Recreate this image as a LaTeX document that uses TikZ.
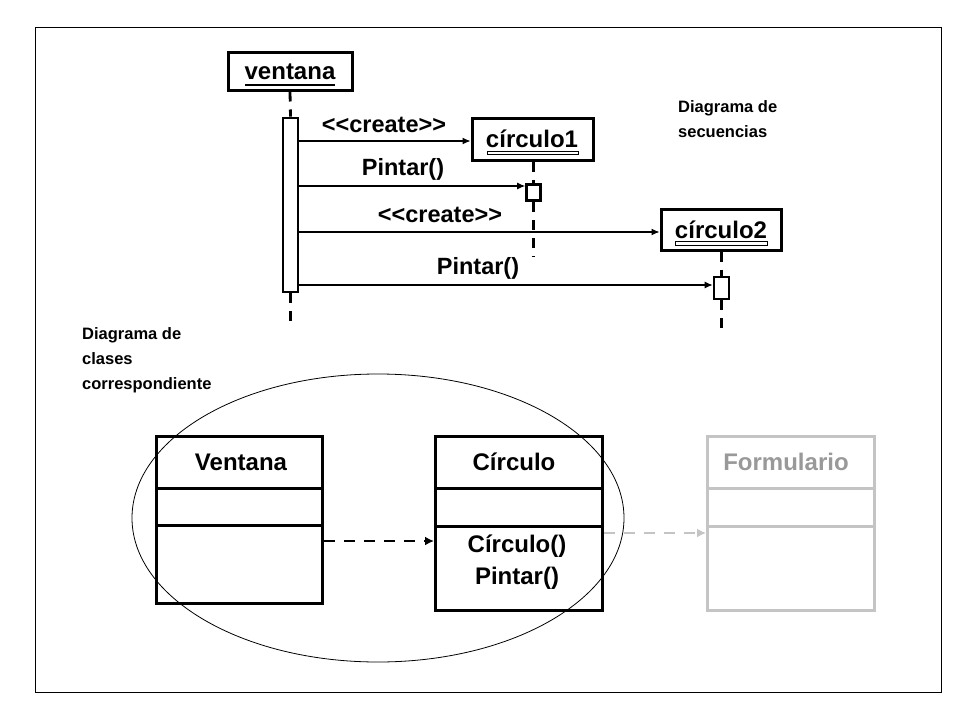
\documentclass[tikz,border=0pt]{standalone}
\usepackage{fontspec}
\setmainfont{Liberation Sans}
\usetikzlibrary{arrows.meta}
\definecolor{lgray}{HTML}{C4C4C4}
\definecolor{tgray}{HTML}{999999}
\tikzset{
  objbox/.style={draw, line width=3pt, fill=white, inner sep=0pt, font=\fontsize{24}{28}\selectfont\bfseries},
  actbar/.style={draw, line width=2.6pt, fill=white, inner sep=0pt},
  lifeline/.style={line width=2.8pt, dash pattern=on 10pt off 8pt},
  msg/.style={line width=1.1pt, -{Latex[length=8pt,width=7pt]}},
  lbl/.style={font=\fontsize{23.5}{28}\selectfont\bfseries, inner sep=0pt},
  clbl/.style={font=\fontsize{24}{28}\selectfont\bfseries, inner sep=0pt},
  note/.style={font=\fontsize{16.5}{25}\selectfont\bfseries, inner sep=0pt, align=left, anchor=north west},
  classbox/.style={draw, line width=3pt, inner sep=0pt, anchor=north west},
  dep/.style={line width=2.8pt, dash pattern=on 11pt off 9pt, -{Latex[length=9pt,width=9pt]}},
}
\begin{document}
\begin{tikzpicture}[x=1pt,y=-1pt]
\useasboundingbox (0,0) rectangle (959,720);
\fill[white] (0,0) rectangle (959,720);
\draw[line width=1pt] (35,27) rectangle (941,692);

% sequence diagram objects
\node[objbox, minimum width=124pt, minimum height=38pt] (ventana) at (290,71) {};
\node[clbl] (tv) at (290,72) {ventana};
\draw[line width=2.6pt] (245,85) -- (335,85);
\node[actbar, minimum width=15pt, minimum height=174pt] (bar) at (290.5,205) {};
\draw[lifeline] (ventana.south) -- (bar.north);
\coordinate (vend) at (290.5,326);
\draw[lifeline] (bar.south) -- (vend);

\node[objbox, minimum width=121pt, minimum height=42pt] (c1) at (532.5,139) {};
\node[clbl] (t1) at (532,139) {círculo1};
\draw[line width=0.8pt, fill=white] (487,151) rectangle (578,154.5);
\node[actbar, minimum width=14pt, minimum height=16pt] (a1) at (533.5,192.5) {};
\coordinate (c1end) at (533.5,256);
\draw[lifeline] (c1.south -| a1.north) -- (a1.north);
\draw[lifeline] (a1.south) -- (c1end);

\node[objbox, minimum width=120pt, minimum height=41pt] (c2) at (721,229.5) {};
\node[clbl] (t2) at (721,229.5) {círculo2};
\draw[line width=0.8pt, fill=white] (675,241.5) rectangle (767,245);
\node[actbar, minimum width=15pt, minimum height=22pt] (a2) at (721.5,288) {};
\coordinate (c2end) at (721.5,334);
\draw[lifeline] (c2.south -| a2.north) -- (a2.north);
\draw[lifeline] (a2.south) -- (c2end);

% messages
\draw[msg] (bar.east |- 0,141) -- (c1.west |- 0,141);
\node[lbl] (m1) at (384,125) {<\kern0pt<create>\kern0pt>};
\draw[msg] (bar.east |- 0,186) -- (a1.west |- 0,186);
\node[lbl] (m2) at (403,169) {Pintar()};
\draw[msg] (bar.east |- 0,232) -- (c2.west |- 0,232);
\node[lbl] (m3) at (440,215) {<\kern0pt<create>\kern0pt>};
\draw[msg] (bar.east |- 0,285) -- (a2.west |- 0,285);
\node[lbl] (m4) at (478,268) {Pintar()};

% annotations
\node[note] (n1) at (678,100) {Diagrama de\\secuencias};
\node[note] (n2) at (82,327) {Diagrama de\\clases\\correspondiente};

% ellipse
\draw[line width=0.8pt] (378,518) ellipse [x radius=246, y radius=144];

% class diagram
\node[classbox, minimum width=166pt, minimum height=167pt] (cV) at (155,435) {};
\draw[line width=3pt] (155,488) -- (321,488) (155,525) -- (321,525);
\node[clbl] (tV) at (241,462) {Ventana};

\node[classbox, minimum width=167pt, minimum height=174pt] (cC) at (434,435) {};
\draw[line width=3pt] (434,488) -- (601,488) (434,526) -- (601,526);
\node[clbl] (tC) at (514,462) {Círculo};
\node[clbl] (tC1) at (517,546) {Círculo()};
\node[clbl] (tC2) at (517,578) {Pintar()};

\node[classbox, draw=lgray, minimum width=167pt, minimum height=174pt] (cF) at (706,435) {};
\draw[line width=3pt, lgray] (706,488) -- (873,488) (706,526) -- (873,526);
\node[clbl, text=tgray] (tF) at (786,462) {Formulario};

\draw[dep] (cV.east |- 0,541) -- (cC.west |- 0,541);
\draw[dep, lgray] (cC.east |- 0,533) -- (cF.west |- 0,533);
\end{tikzpicture}
\end{document}
